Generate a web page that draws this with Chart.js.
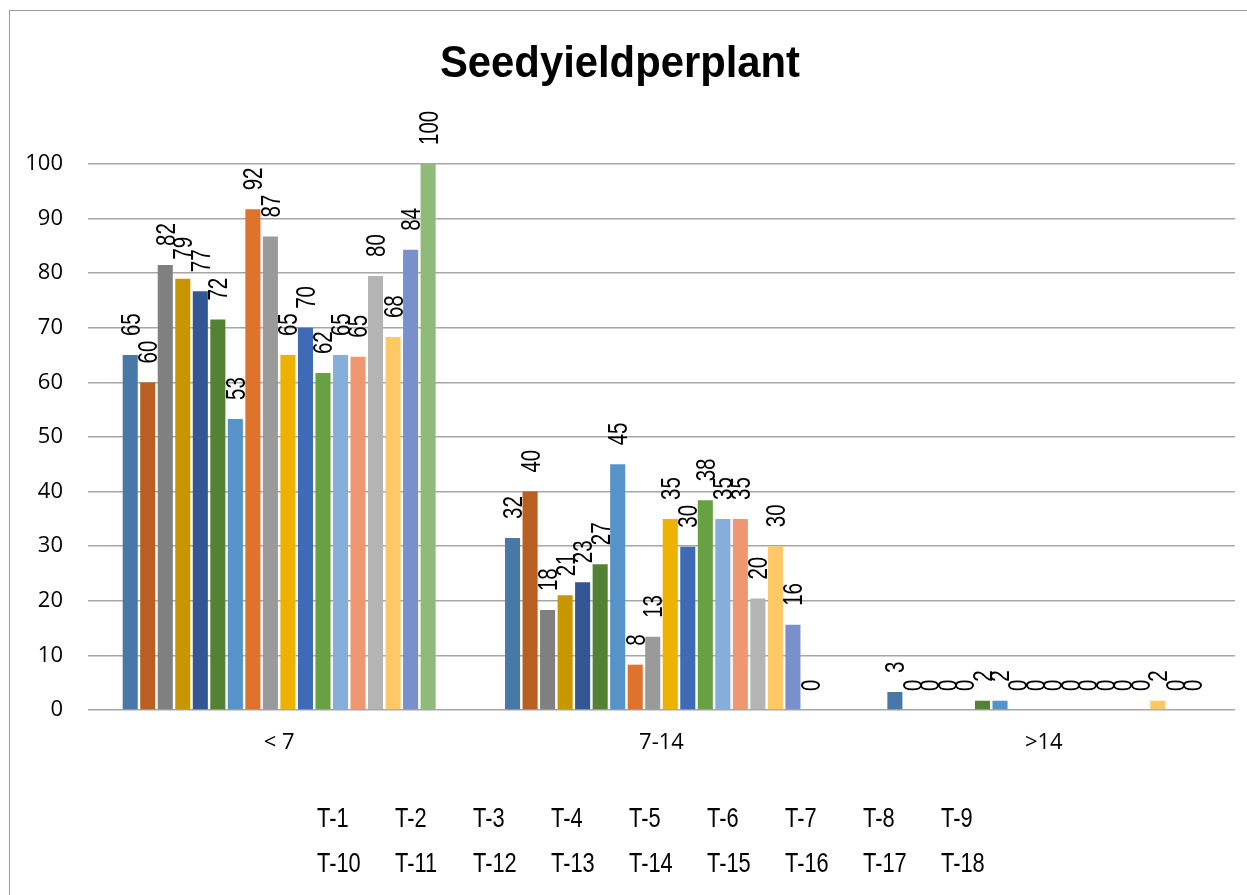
<!DOCTYPE html>
<html>
<head>
<meta charset="utf-8">
<script src="https://cdn.jsdelivr.net/npm/chart.js@4/dist/chart.umd.min.js"></script>
<style>
  html, body { margin: 0; padding: 0; background: #fff; }
  #wrap { position: relative; width: 1247px; height: 895px; }
  #frame { position: absolute; left: 9px; top: 10px; right: -5px; bottom: -5px; border-left: 1.5px solid #9a9a9a; border-top: 1.5px solid #9a9a9a; pointer-events: none; }
  canvas { position: absolute; left: 0; top: 0; }
</style>
</head>
<body>
<div id="wrap">
  <canvas id="c" width="1247" height="895"></canvas>
  <div id="frame"></div>
</div>
<script>
const categories = ['< 7', '7-14', '>14'];
const seriesNames = ['T-1','T-2','T-3','T-4','T-5','T-6','T-7','T-8','T-9',
                     'T-10','T-11','T-12','T-13','T-14','T-15','T-16','T-17','T-18'];
// values per series: [< 7, 7-14, >14]
const T1  = [65, 31.5, 3.3];
const T2  = [60, 40, 0];
const T3  = [81.5, 18.3, 0];
const T4  = [79, 21, 0];
const T5  = [76.7, 23.4, 0];
const T6  = [71.5, 26.7, 1.7];
const T7  = [53.3, 45, 1.7];
const T8  = [91.7, 8.3, 0];
const T9  = [86.7, 13.4, 0];
const T10 = [65, 35, 0];
const T11 = [70, 29.9, 0];
const T12 = [61.7, 38.4, 0];
const T13 = [65, 35, 0];
const T14 = [64.7, 35, 0];
const T15 = [79.5, 20.4, 0];
const T16 = [68.3, 30, 1.7];
const T17 = [84.3, 15.6, 0];
const T18 = [100, 0, 0];
const seriesValues = [T1,T2,T3,T4,T5,T6,T7,T8,T9,T10,T11,T12,T13,T14,T15,T16,T17,T18];
const seriesColors = ['#4878A8','#BA5F22','#808080','#C89600','#335695','#548235',
                      '#5593C8','#DF732E','#9A9A9A','#EDB100','#3F6AB6','#68A143',
                      '#85AEDB','#EE9770','#B4B4B4','#FFC866','#7891CD','#8FBA78'];
const yTicks = [0,10,20,30,40,50,60,70,80,90,100];
const chartTitle = 'Seedyieldperplant';

const SANS = "'Liberation Sans', Arial, sans-serif";
const REG = "'Open Sans', 'Liberation Sans', sans-serif";

const datasets = seriesNames.map((n, i) => ({
  label: n,
  data: seriesValues[i],
  backgroundColor: seriesColors[i],
  borderWidth: 0,
  categoryPercentage: 0.825,
  barPercentage: 0.86
}));

// draw text horizontally compressed (emulates a narrow face)
function narrowText(ctx, text, x, y, k) {
  ctx.save();
  ctx.translate(x, y);
  ctx.scale(k, 1);
  ctx.fillText(text, 0, 0);
  ctx.restore();
}

const labelPlugin = {
  id: 'rotLabels',
  afterDatasetsDraw(chart) {
    const ctx = chart.ctx;
    ctx.save();
    ctx.fillStyle = '#000';
    ctx.font = '27px ' + SANS;
    ctx.textAlign = 'left';
    ctx.textBaseline = 'middle';
    chart.data.datasets.forEach((ds, di) => {
      const meta = chart.getDatasetMeta(di);
      meta.data.forEach((bar, i) => {
        const v = ds.data[i];
        ctx.save();
        ctx.translate(bar.x + 2, bar.y - 19);
        ctx.rotate(-Math.PI / 2);
        ctx.scale(0.76, 1);
        ctx.fillText(String(Math.round(v)), 0, 0);
        ctx.restore();
      });
    });
    ctx.restore();
  }
};

const titleLegendPlugin = {
  id: 'titleLegend',
  afterDraw(chart) {
    const ctx = chart.ctx;
    ctx.save();
    ctx.fillStyle = '#000';
    ctx.font = 'bold 44px ' + SANS;
    ctx.textAlign = 'center';
    ctx.textBaseline = 'alphabetic';
    narrowText(ctx, chartTitle, 620, 77, 0.95);
    ctx.font = '28px ' + SANS;
    ctx.textAlign = 'left';
    seriesNames.forEach((n, i) => {
      const col = i % 9, row = Math.floor(i / 9);
      narrowText(ctx, n, 317 + col * 78, 827 + row * 45, 0.78);
    });
    ctx.restore();
  }
};

new Chart(document.getElementById('c'), {
  type: 'bar',
  data: { labels: categories, datasets },
  options: {
    responsive: false,
    animation: false,
    layout: { padding: { left: 0, top: 164, right: 12, bottom: 0 } },
    plugins: { legend: { display: false }, title: { display: false }, tooltip: { enabled: false } },
    scales: {
      x: {
        grid: { display: false, drawTicks: false },
        border: { display: false },
        ticks: { color: '#000', font: { family: REG, size: 22 }, padding: 20 },
        afterFit(s) { s.height = 185; }
      },
      y: {
        min: 0, max: 100,
        afterBuildTicks(s) { s.ticks = yTicks.map(v => ({ value: v })); },
        grid: { color: '#a6a6a6', lineWidth: 1.5, drawTicks: false },
        border: { display: false },
        ticks: { color: '#000', font: { family: REG, size: 22 }, padding: 25 },
        afterFit(s) { s.width = 88; }
      }
    }
  },
  plugins: [labelPlugin, titleLegendPlugin]
});
</script>
</body>
</html>
